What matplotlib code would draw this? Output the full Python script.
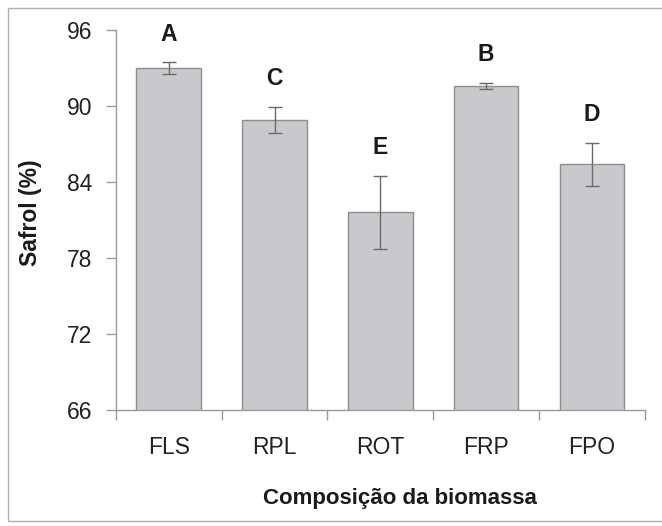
import numpy as np
import matplotlib
matplotlib.use("Agg")
import matplotlib.pyplot as plt
from matplotlib.patches import Rectangle

plt.rcParams['font.family'] = ['Liberation Sans', 'DejaVu Sans']

# --- data ---
categories = ['FLS', 'RPL', 'ROT', 'FRP', 'FPO']
safrol = [93.0, 88.9, 81.6, 91.6, 85.4]
errors = [0.45, 1.05, 2.9, 0.25, 1.7]
letters = ['A', 'C', 'E', 'B', 'D']
yticks = [66, 72, 78, 84, 90, 96]

fig = plt.figure(figsize=(6.62, 5.26), dpi=100)
ax = fig.add_axes([0.175, 0.2205, 0.799, 0.7225])

# light frame around the whole figure
fig.patches.append(Rectangle((8 / 662, 5 / 526), 1.0, 1 - 13 / 526,
                             transform=fig.transFigure, fill=False,
                             edgecolor='#b0b0b0', linewidth=1.0))

x = np.arange(len(categories))
ax.bar(x, safrol, width=0.61, color='#c7c9cc', edgecolor='#8e8e8e',
       linewidth=1.0, zorder=2)
ax.errorbar(x, safrol, yerr=errors, fmt='none', ecolor='#6a6a6a',
            elinewidth=1.0, capsize=5, capthick=1.0, zorder=3)

for xi, v, e, lab in zip(x, safrol, errors, letters):
    ax.annotate(lab, (xi, v + e), textcoords='offset points', xytext=(0, 20),
                ha='center', va='center', fontsize=16.5, fontweight='bold',
                color='#1a1a1a')

ax.set_xlim(-0.5, len(categories) - 0.5)
ax.set_ylim(66, 96)
ax.set_yticks(yticks)
ax.set_xticks(x)
ax.set_xticklabels(categories)
ax.set_xticks(np.arange(-0.5, len(categories)), minor=True)

for side in ['top', 'right']:
    ax.spines[side].set_visible(False)
for side in ['left', 'bottom']:
    ax.spines[side].set_color('#9a9a9a')
    ax.spines[side].set_linewidth(1.0)

ax.tick_params(axis='y', direction='out', length=7, width=1.0, color='#9a9a9a',
               labelsize=16.5, labelcolor='#222222', pad=10)
ax.tick_params(axis='x', which='major', length=0, labelsize=16.5,
               labelcolor='#222222', pad=19)
ax.tick_params(axis='x', which='minor', direction='out', length=7, width=1.0,
               color='#9a9a9a')

ax.set_ylabel('Safrol (%)', fontsize=16.5, fontweight='bold', color='#1a1a1a',
              va='center')
ax.yaxis.set_label_coords(-0.162, 0.52)
ax.set_xlabel('Composição da biomassa', fontsize=16, fontweight='bold',
              color='#1a1a1a', va='center')
ax.xaxis.set_label_coords(0.538, -0.234)

fig.savefig('out.png', dpi=100)
